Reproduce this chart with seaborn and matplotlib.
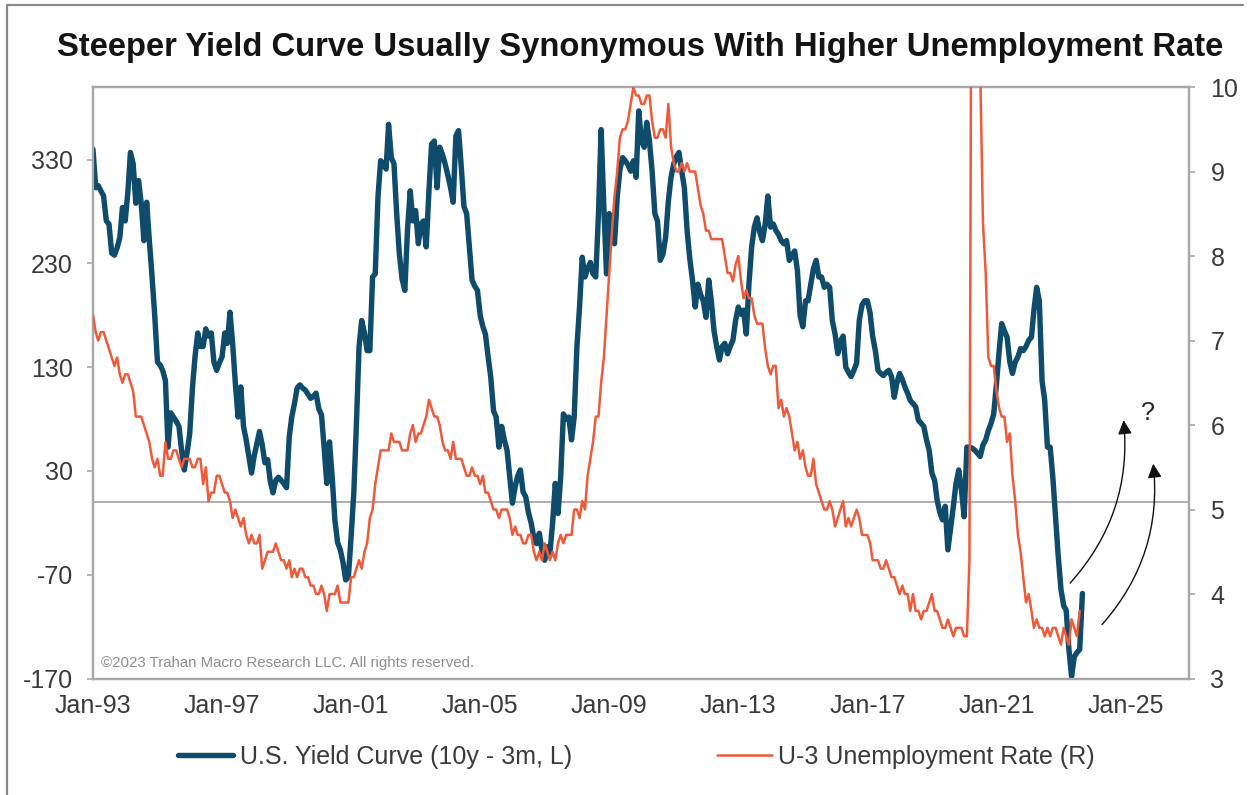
import matplotlib
matplotlib.use("Agg")
import matplotlib.pyplot as plt
import matplotlib.dates as mdates
from matplotlib.lines import Line2D
import pandas as pd
import seaborn as sns

# ---- data ---------------------------------------------------------------
# U.S. yield curve, 10y minus 3m spread in basis points, monthly from Jan 1993
yield_curve_bps = [
    340, 303, 305, 300, 295, 271, 268, 240, 238, 245, 255, 284,   # 1993
    271, 300, 337, 326, 288, 310, 288, 252, 289, 252, 217, 180,   # 1994
    135, 132, 127, 117, 53, 86, 82, 78, 73, 50, 31, 47,           # 1995
    66, 110, 140, 163, 150, 150, 167, 160, 163, 135, 127, 134,    # 1996
    140, 163, 153, 183, 153, 114, 82, 111, 73, 60, 44, 28,        # 1997
    45, 57, 68, 55, 38, 41, 20, 9, 21, 24, 21, 18,                # 1998
    14, 63, 82, 95, 110, 113, 110, 108, 104, 100, 102, 105,       # 1999
    90, 84, 53, 18, 58, 24, -17, -39, -46, -58, -75, -72,         # 2000
    -33, 10, 73, 150, 175, 163, 146, 146, 217, 220, 294, 329,     # 2001
    326, 321, 364, 332, 326, 278, 239, 215, 204, 262, 300, 271,   # 2002
    281, 249, 268, 271, 246, 300, 345, 348, 303, 342, 335, 326,   # 2003
    315, 303, 289, 353, 358, 323, 285, 278, 246, 214, 208, 204,   # 2004
    180, 169, 162, 140, 120, 88, 82, 53, 73, 60, 50, 25,          # 2005
    -1, 15, 25, 31, 10, 5, -10, -20, -35, -40, -30, -46,          # 2006
    -56, -43, -49, -20, 18, -11, 24, 85, 80, 82, 60, 82,          # 2007
    150, 190, 236, 217, 225, 231, 220, 217, 278, 359, 284, 220,   # 2008
    278, 265, 249, 294, 320, 332, 329, 325, 319, 329, 313, 377,   # 2009
    348, 342, 366, 348, 319, 278, 271, 233, 239, 255, 290, 313,   # 2010
    326, 333, 337, 319, 303, 262, 235, 214, 188, 210, 200, 194,   # 2011
    178, 214, 194, 165, 150, 137, 150, 153, 143, 150, 156, 175,   # 2012
    188, 181, 185, 162, 210, 246, 265, 274, 260, 252, 268, 295,   # 2013
    265, 268, 262, 258, 252, 249, 252, 233, 238, 242, 223, 180,   # 2014
    169, 194, 194, 210, 225, 233, 217, 217, 207, 210, 207, 175,   # 2015
    162, 143, 155, 160, 130, 125, 121, 127, 134, 175, 190, 194,   # 2016
    194, 182, 160, 146, 127, 124, 122, 125, 127, 121, 101, 115,   # 2017
    124, 118, 111, 105, 98, 95, 92, 79, 76, 73, 60, 50,           # 2018
    28, 21, 2, -10, -17, -4, -46, -25, -4, 18, 31, 12,            # 2019
    -14, 53, 53, 52, 50, 47, 44, 55, 60, 69, 76, 85,              # 2020
    114, 146, 172, 165, 159, 135, 124, 135, 140, 148, 146, 150,   # 2021
    156, 159, 185, 207, 194, 117, 98, 53, 53, 24, -14, -52,       # 2022
    -84, -100, -104, -142, -168, -149, -145, -142, -88,           # 2023
]

# U-3 unemployment rate in percent, monthly from Jan 1993
unemployment_rate = [
    7.3, 7.1, 7.0, 7.1, 7.1, 7.0, 6.9, 6.8, 6.7, 6.8, 6.6, 6.5,   # 1993
    6.6, 6.6, 6.5, 6.4, 6.1, 6.1, 6.1, 6.0, 5.9, 5.8, 5.6, 5.5,   # 1994
    5.6, 5.4, 5.4, 5.8, 5.6, 5.6, 5.7, 5.7, 5.6, 5.5, 5.6, 5.6,   # 1995
    5.6, 5.5, 5.5, 5.6, 5.6, 5.3, 5.5, 5.1, 5.2, 5.2, 5.4, 5.4,   # 1996
    5.3, 5.2, 5.2, 5.1, 4.9, 5.0, 4.9, 4.8, 4.9, 4.7, 4.6, 4.7,   # 1997
    4.6, 4.6, 4.7, 4.3, 4.4, 4.5, 4.5, 4.5, 4.6, 4.5, 4.4, 4.4,   # 1998
    4.3, 4.4, 4.2, 4.3, 4.2, 4.3, 4.3, 4.2, 4.2, 4.1, 4.1, 4.0,   # 1999
    4.0, 4.1, 4.0, 3.8, 4.0, 4.0, 4.0, 4.1, 3.9, 3.9, 3.9, 3.9,   # 2000
    4.2, 4.2, 4.3, 4.4, 4.3, 4.5, 4.6, 4.9, 5.0, 5.3, 5.5, 5.7,   # 2001
    5.7, 5.7, 5.7, 5.9, 5.8, 5.8, 5.8, 5.7, 5.7, 5.7, 5.9, 6.0,   # 2002
    5.8, 5.9, 5.9, 6.0, 6.1, 6.3, 6.2, 6.1, 6.1, 6.0, 5.8, 5.7,   # 2003
    5.7, 5.6, 5.8, 5.6, 5.6, 5.6, 5.5, 5.4, 5.4, 5.5, 5.4, 5.4,   # 2004
    5.3, 5.4, 5.2, 5.2, 5.1, 5.0, 5.0, 4.9, 5.0, 5.0, 5.0, 4.9,   # 2005
    4.7, 4.8, 4.7, 4.7, 4.6, 4.6, 4.7, 4.7, 4.5, 4.4, 4.5, 4.4,   # 2006
    4.6, 4.5, 4.4, 4.5, 4.4, 4.6, 4.7, 4.6, 4.7, 4.7, 4.7, 5.0,   # 2007
    5.0, 4.9, 5.1, 5.0, 5.4, 5.6, 5.8, 6.1, 6.1, 6.5, 6.8, 7.3,   # 2008
    7.8, 8.3, 8.7, 9.0, 9.4, 9.5, 9.5, 9.6, 9.8, 10.0, 9.9, 9.9,  # 2009
    9.8, 9.8, 9.9, 9.9, 9.6, 9.4, 9.4, 9.5, 9.5, 9.4, 9.8, 9.3,   # 2010
    9.1, 9.0, 9.0, 9.1, 9.0, 9.1, 9.0, 9.0, 9.0, 8.8, 8.6, 8.5,   # 2011
    8.3, 8.3, 8.2, 8.2, 8.2, 8.2, 8.2, 8.0, 7.8, 7.8, 7.7, 7.9,   # 2012
    8.0, 7.7, 7.5, 7.6, 7.5, 7.5, 7.3, 7.2, 7.2, 7.2, 6.9, 6.7,   # 2013
    6.6, 6.7, 6.7, 6.2, 6.3, 6.1, 6.2, 6.1, 5.9, 5.7, 5.8, 5.6,   # 2014
    5.7, 5.5, 5.4, 5.4, 5.6, 5.3, 5.2, 5.1, 5.0, 5.0, 5.1, 5.0,   # 2015
    4.8, 4.9, 5.0, 5.1, 4.8, 4.9, 4.8, 4.9, 5.0, 4.9, 4.7, 4.7,   # 2016
    4.7, 4.6, 4.4, 4.4, 4.4, 4.3, 4.3, 4.4, 4.3, 4.2, 4.2, 4.1,   # 2017
    4.0, 4.1, 4.0, 4.0, 3.8, 4.0, 3.8, 3.8, 3.7, 3.8, 3.8, 3.9,   # 2018
    4.0, 3.8, 3.8, 3.7, 3.6, 3.6, 3.7, 3.6, 3.5, 3.6, 3.6, 3.6,   # 2019
    3.5, 3.5, 4.4, 14.8, 13.2, 11.0, 10.2, 8.4, 7.8, 6.8, 6.7, 6.7,  # 2020
    6.4, 6.2, 6.1, 6.1, 5.8, 5.9, 5.4, 5.1, 4.7, 4.5, 4.2, 3.9,   # 2021
    4.0, 3.8, 3.6, 3.7, 3.6, 3.6, 3.5, 3.6, 3.5, 3.6, 3.6, 3.5,   # 2022
    3.4, 3.6, 3.5, 3.4, 3.7, 3.6, 3.5, 3.8,                       # 2023
]

tick_years = [1993, 1997, 2001, 2005, 2009, 2013, 2017, 2021, 2025]
tick_labels = ["Jan-93", "Jan-97", "Jan-01", "Jan-05", "Jan-09",
               "Jan-13", "Jan-17", "Jan-21", "Jan-25"]
left_ticks = [-170, -70, 30, 130, 230, 330]
right_ticks = [3, 4, 5, 6, 7, 8, 9, 10]

title = "Steeper Yield Curve Usually Synonymous With Higher Unemployment Rate"
label_curve = "U.S. Yield Curve (10y - 3m, L)"
label_unemp = "U-3 Unemployment Rate (R)"
copyright_note = "\u00a92023 Trahan Macro Research LLC. All rights reserved."

# ---- style --------------------------------------------------------------
BLUE = "#0f4b6a"
RED = "#ef5a3b"
GRID_GREY = "#a8a8a8"
TEXT = "#3a3a3a"

sns.set_style("white")
plt.rcParams["font.family"] = ["Liberation Sans", "DejaVu Sans"]

curve_df = pd.DataFrame({
    "date": pd.date_range("1993-01-01", periods=len(yield_curve_bps), freq="MS"),
    "spread": yield_curve_bps,
})
unemp_df = pd.DataFrame({
    "date": pd.date_range("1993-01-01", periods=len(unemployment_rate), freq="MS"),
    "rate": unemployment_rate,
})

fig = plt.figure(figsize=(12.53, 7.95), dpi=100)
ax = fig.add_axes([0.0742, 0.1465, 0.8747, 0.7440])
ax2 = ax.twinx()

# zero line of the spread
ax.axhline(0, color=GRID_GREY, lw=1.3, zorder=1)

sns.lineplot(data=curve_df, x="date", y="spread", ax=ax, color=BLUE,
             lw=3.9, legend=False, zorder=3, solid_joinstyle="round")
sns.lineplot(data=unemp_df, x="date", y="rate", ax=ax2, color=RED,
             lw=1.8, legend=False, zorder=3)

ax.set_xlim(mdates.date2num(pd.Timestamp("1993-01-01")),
            mdates.date2num(pd.Timestamp("2026-12-20")))
ax.set_ylim(-170, 400)
ax2.set_ylim(3, 10)

ax.set_xticks([mdates.date2num(pd.Timestamp(f"{y}-01-01")) for y in tick_years])
ax.set_xticklabels(tick_labels)
ax.set_yticks(left_ticks)
ax.set_yticklabels([str(v) for v in left_ticks])
ax2.set_yticks(right_ticks)
ax2.set_yticklabels([str(v) for v in right_ticks])

for a in (ax, ax2):
    a.set_xlabel("")
    a.set_ylabel("")
    for sp in a.spines.values():
        sp.set_color(GRID_GREY)
        sp.set_linewidth(1.6)
        sp.set_visible(True)

ax.tick_params(axis="x", length=0, pad=11, labelsize=18, labelcolor=TEXT)
ax.tick_params(axis="y", left=True, direction="out", length=4.5, width=1.2,
               color=GRID_GREY, pad=10, labelsize=18, labelcolor=TEXT)
ax2.tick_params(axis="y", right=True, direction="out", length=4.5, width=1.2,
                color=GRID_GREY, pad=11, labelsize=18, labelcolor=TEXT)

# copyright note inside the plot area
ax.text(0.0075, 0.027, copyright_note, transform=ax.transAxes,
        fontsize=10.8, color="#8e8e8e", ha="left", va="center")

# speculative outlook arrows
arrow_kw = dict(arrowstyle="-|>", color="#111111", lw=1.0, mutation_scale=21,
                shrinkA=0, shrinkB=0, connectionstyle="arc3,rad=0.22")
ax.annotate("", xy=(mdates.date2num(pd.Timestamp("2024-12-10")), 79),
            xytext=(mdates.date2num(pd.Timestamp("2023-04-15")), -78),
            arrowprops=arrow_kw, zorder=5)
ax.annotate("", xy=(mdates.date2num(pd.Timestamp("2025-11-10")), 37),
            xytext=(mdates.date2num(pd.Timestamp("2024-04-10")), -118),
            arrowprops=arrow_kw, zorder=5)
ax.text(mdates.date2num(pd.Timestamp("2025-09-15")), 86, "?", fontsize=18,
        color="#222222", ha="center", va="center")

# title
fig.text(0.5105, 0.940, title, ha="center", va="center", fontsize=23.6,
         fontweight="bold", color="#141414")

# legend below the axis
handles = [Line2D([0], [0], color=BLUE, lw=3.9),
           Line2D([0], [0], color=RED, lw=1.8)]
fig.legend(handles, [label_curve, label_unemp], loc="center",
           bbox_to_anchor=(0.508, 0.048), ncol=2, frameon=False,
           fontsize=18, handlelength=2.2, handletextpad=0.25,
           columnspacing=5.8, labelcolor=TEXT)

# outer frame edges
fig.add_artist(Line2D([0.0056, 0.992], [0.9937, 0.9937],
                      transform=fig.transFigure, color="#8a8a8a", lw=1.6))
fig.add_artist(Line2D([0.0056, 0.0056], [0.0, 0.9937],
                      transform=fig.transFigure, color="#8a8a8a", lw=1.6))

fig.savefig("out.png", dpi=100, facecolor="white")
